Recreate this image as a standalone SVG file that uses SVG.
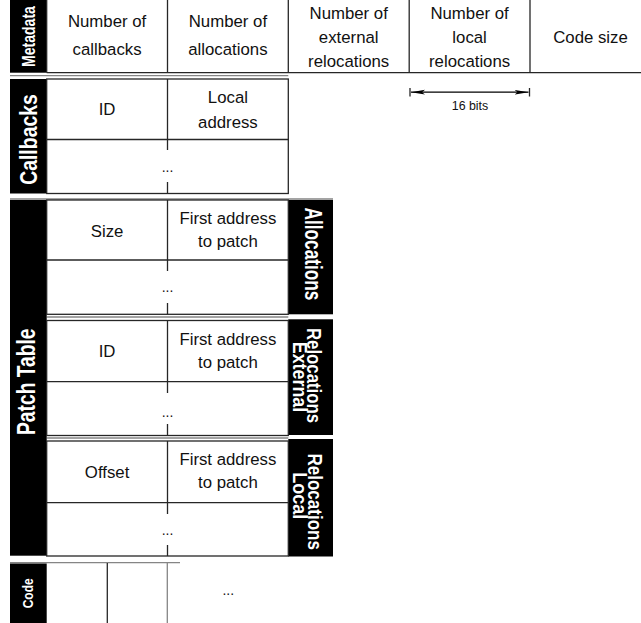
<svg xmlns="http://www.w3.org/2000/svg" width="641" height="623" viewBox="0 0 641 623">
  <defs>
    <style>
      .bar { fill: #000; }
      .ln { stroke: #262626; stroke-width: 1.3; fill: none; }
      .gr { stroke: #858585; stroke-width: 1.3; fill: none; }
      .t { font-family: "Liberation Sans", Arial, Helvetica, sans-serif; font-size: 16.8px; fill: #111; text-anchor: middle; }
      .dots { font-family: "Liberation Sans", Arial, Helvetica, sans-serif; font-size: 14px; fill: #111; text-anchor: middle; }
      .lbl { font-family: "Liberation Sans", Arial, Helvetica, sans-serif; font-weight: bold; fill: #fff; text-anchor: middle; }
      .small { font-family: "Liberation Sans", Arial, Helvetica, sans-serif; font-size: 12.4px; fill: #111; text-anchor: middle; }
    </style>
    <marker id="head" viewBox="0 0 14 6" refX="14" refY="3" markerWidth="14" markerHeight="6" markerUnits="userSpaceOnUse" orient="auto-start-reverse">
      <path d="M0,0.6 L14,3 L0,5.4 L3,3 Z" fill="#000"/>
    </marker>
  </defs>

  <rect width="641" height="623" fill="#fff"/>

  <!-- section separators -->
  <g id="separators">
    <line class="gr" x1="10" y1="75.7" x2="288.3" y2="75.7"/>
    <line class="gr" x1="10" y1="199" x2="333" y2="199"/>
    <line class="gr" x1="46.7" y1="317" x2="288.3" y2="317"/>
    <line class="gr" x1="46.7" y1="438" x2="288.3" y2="438"/>
    <line class="gr" x1="10" y1="562.7" x2="180" y2="562.7"/>
  </g>

  <!-- header record -->
  <g id="metadata">
    <rect class="bar" x="10" y="-2" width="36.7" height="74.7"/>
    <line class="ln" x1="46.7" y1="72.7" x2="651" y2="72.7"/>
    <line class="ln" x1="46.7" y1="0" x2="46.7" y2="72.7"/>
    <line class="ln" x1="167.5" y1="0" x2="167.5" y2="72.7"/>
    <line class="ln" x1="288.3" y1="0" x2="288.3" y2="72.7"/>
    <line class="ln" x1="409.2" y1="0" x2="409.2" y2="72.7"/>
    <line class="ln" x1="530" y1="0" x2="530" y2="72.7"/>
    <text class="lbl" font-size="18" transform="translate(35,36.5) rotate(-90) scale(0.78,1)">Metadata</text>
    <text class="t" x="107.1" y="26.7">Number of</text>
    <text class="t" x="107.1" y="55">callbacks</text>
    <text class="t" x="227.9" y="26.7">Number of</text>
    <text class="t" x="227.9" y="55">allocations</text>
    <text class="t" x="348.7" y="19">Number of</text>
    <text class="t" x="348.7" y="43">external</text>
    <text class="t" x="348.7" y="66.7">relocations</text>
    <text class="t" x="469.6" y="19">Number of</text>
    <text class="t" x="469.6" y="43">local</text>
    <text class="t" x="469.6" y="66.7">relocations</text>
    <text class="t" x="590.5" y="43">Code size</text>
  </g>

  <!-- callback table -->
  <g id="callbacks">
    <rect class="bar" x="10" y="79" width="36.7" height="114.5"/>
    <rect class="ln" x="46.7" y="79" width="241.6" height="114.5"/>
    <line class="ln" x1="46.7" y1="139.5" x2="288.3" y2="139.5"/>
    <line class="ln" x1="167.5" y1="79" x2="167.5" y2="150"/>
    <line class="ln" x1="167.5" y1="182" x2="167.5" y2="193.5"/>
    <text class="lbl" font-size="24" transform="translate(36.7,139.5) rotate(-90) scale(0.81,1)">Callbacks</text>
    <text class="t" x="107.1" y="115.3">ID</text>
    <text class="t" x="227.9" y="102.7">Local</text>
    <text class="t" x="227.9" y="128.3">address</text>
    <text class="dots" x="167.5" y="172">...</text>
  </g>

  <!-- patch table label bar -->
  <g id="patch-table">
    <rect class="bar" x="10" y="200" width="36.7" height="355.7"/>
    <text class="lbl" font-size="25" transform="translate(35,381.7) rotate(-90) scale(0.77,1)">Patch Table</text>
  </g>

  <g id="allocations">
    <rect class="bar" x="288.3" y="200" width="44.7" height="114.3"/>
    <rect class="ln" x="46.7" y="200" width="241.6" height="114.3"/>
    <line class="ln" x1="46.7" y1="260" x2="288.3" y2="260"/>
    <line class="ln" x1="167.5" y1="200" x2="167.5" y2="271"/>
    <line class="ln" x1="167.5" y1="303" x2="167.5" y2="314.3"/>
    <text class="lbl" font-size="23" transform="translate(305,254) rotate(90) scale(0.75,1)">Allocations</text>
    <text class="t" x="107.1" y="236.7">Size</text>
    <text class="t" x="227.9" y="224.3">First address</text>
    <text class="t" x="227.9" y="247">to patch</text>
    <text class="dots" x="167.5" y="291.5">...</text>
  </g>

  <g id="external-relocations">
    <rect class="bar" x="288.3" y="319.3" width="44.7" height="115.7"/>
    <rect class="ln" x="46.7" y="320.5" width="241.6" height="115"/>
    <line class="ln" x1="46.7" y1="381.7" x2="288.3" y2="381.7"/>
    <line class="ln" x1="167.5" y1="320.5" x2="167.5" y2="393"/>
    <line class="ln" x1="167.5" y1="424" x2="167.5" y2="435.5"/>
    <text class="lbl" font-size="21" transform="translate(307.3,375.5) rotate(90) scale(0.8,1)">Relocations</text>
    <text class="lbl" font-size="21" transform="translate(292.7,377) rotate(90) scale(0.85,1)">External</text>
    <text class="t" x="107.1" y="356.7">ID</text>
    <text class="t" x="227.9" y="345">First address</text>
    <text class="t" x="227.9" y="368.3">to patch</text>
    <text class="dots" x="167.5" y="416.5">...</text>
  </g>

  <g id="local-relocations">
    <rect class="bar" x="288.3" y="439" width="44.7" height="117.5"/>
    <rect class="ln" x="46.7" y="441" width="241.6" height="115"/>
    <line class="ln" x1="46.7" y1="502.7" x2="288.3" y2="502.7"/>
    <line class="ln" x1="167.5" y1="441" x2="167.5" y2="514"/>
    <line class="ln" x1="167.5" y1="545" x2="167.5" y2="556"/>
    <text class="lbl" font-size="21" transform="translate(308.3,501.7) rotate(90) scale(0.81,1)">Relocations</text>
    <text class="lbl" font-size="21" transform="translate(293.3,495.8) rotate(90) scale(0.86,1)">Local</text>
    <text class="t" x="107.1" y="478.3">Offset</text>
    <text class="t" x="227.9" y="465">First address</text>
    <text class="t" x="227.9" y="488.3">to patch</text>
    <text class="dots" x="167.5" y="535">...</text>
  </g>

  <!-- code area -->
  <g id="code">
    <rect class="bar" x="10" y="563.5" width="36.7" height="62"/>
    <line class="ln" x1="107.3" y1="563" x2="107.3" y2="625"/>
    <line class="gr" x1="167.3" y1="563" x2="167.3" y2="625"/>
    <text class="lbl" font-size="15" transform="translate(33.3,593.3) rotate(-90) scale(0.8,1)">Code</text>
    <text class="dots" x="228.3" y="595">...</text>
  </g>

  <!-- field width dimension -->
  <g id="connectors">
    <line class="ln" x1="410" y1="88" x2="410" y2="96.5"/>
    <line class="ln" x1="529.5" y1="88" x2="529.5" y2="96.5"/>
    <line stroke="#000" stroke-width="1.2" x1="411" y1="92.2" x2="528.5" y2="92.2" marker-start="url(#head)" marker-end="url(#head)"/>
    <text class="small" x="470" y="110">16 bits</text>
  </g>
</svg>
